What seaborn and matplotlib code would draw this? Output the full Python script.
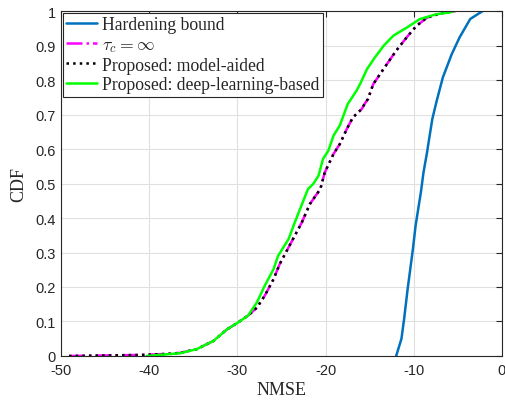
import numpy as np
import pandas as pd
import matplotlib
matplotlib.use("Agg")
import matplotlib.pyplot as plt
import seaborn as sns

# ---- data ----
cdf_hardening = [0.0, 0.05, 0.107, 0.194, 0.252, 0.31, 0.377, 0.426, 0.474, 0.532,
                 0.59, 0.639, 0.687, 0.74, 0.808, 0.875, 0.924, 0.977, 1.0]
nmse_hardening = [-12.0, -11.4, -11.1, -10.7, -10.4, -10.1, -9.8, -9.5, -9.2, -8.9,
                  -8.5, -8.2, -7.9, -7.4, -6.7, -5.7, -4.8, -3.6, -2.2]

cdf_tau_inf = [0.0, 0.003, 0.006, 0.009, 0.02, 0.044, 0.077, 0.096, 0.117, 0.14,
               0.175, 0.223, 0.267, 0.339, 0.387, 0.44, 0.484, 0.532, 0.586, 0.614,
               0.658, 0.692, 0.716, 0.73, 0.745, 0.788, 0.837, 0.885, 0.924, 0.957,
               0.981, 0.993, 0.999, 1.0]
nmse_tau_inf = [-49.1, -41.0, -38.0, -36.5, -34.6, -32.7, -31.2, -30.0, -28.8, -27.8,
                -26.9, -25.9, -25.2, -23.7, -22.7, -21.8, -20.6, -20.1, -19.1, -18.4,
                -17.6, -16.9, -15.9, -15.6, -15.2, -14.6, -13.3, -12.0, -10.8, -9.7,
                -8.5, -7.0, -5.7, -5.3]

cdf_model = list(cdf_tau_inf)
nmse_model = [-49.1, -41.0, -38.0, -36.5, -34.6, -32.7, -31.2, -30.0, -28.8, -27.8,
              -26.9, -25.9, -25.2, -23.7, -22.7, -21.8, -20.6, -20.1, -19.1, -18.4,
              -17.6, -16.9, -15.9, -15.6, -15.2, -14.6, -13.3, -12.0, -10.8, -9.7,
              -8.5, -7.0, -5.7, -5.3]

cdf_deep = [0.0, 0.008, 0.02, 0.044, 0.077, 0.096, 0.117, 0.155, 0.204, 0.252,
            0.29, 0.339, 0.387, 0.426, 0.484, 0.499, 0.523, 0.571, 0.595, 0.639,
            0.668, 0.730, 0.769, 0.788, 0.832, 0.866, 0.90, 0.929, 0.952, 0.977,
            0.991, 0.996, 1.0]
nmse_deep = [-40.3, -36.5, -34.6, -32.7, -31.2, -30.0, -28.8, -27.8, -26.9, -25.9,
             -25.4, -24.2, -23.5, -22.9, -22.0, -21.4, -20.8, -20.3, -19.7, -19.1,
             -18.4, -17.5, -16.5, -16.1, -15.3, -14.4, -13.4, -12.3, -10.8, -9.3,
             -7.4, -5.9, -5.5]

labels = ["Hardening bound", r"$\tau_c = \infty$",
          "Proposed: model-aided", "Proposed: deep-learning-based"]
x_ticks = [-50, -40, -30, -20, -10, 0]
y_ticks = [0, 0.1, 0.2, 0.3, 0.4, 0.5, 0.6, 0.7, 0.8, 0.9, 1.0]
y_tick_labels = ["0", "0.1", "0.2", "0.3", "0.4", "0.5", "0.6", "0.7", "0.8", "0.9", "1"]

sns.set_style("whitegrid")
plt.rcParams["font.family"] = ["Liberation Sans", "DejaVu Sans"]
plt.rcParams["mathtext.fontset"] = "cm"

fig = plt.figure(figsize=(5.05, 4.02), dpi=100)
ax = fig.add_axes([0.121, 0.112, 0.873, 0.858])

series = [
    (nmse_hardening, cdf_hardening, "#0072BD", "-", labels[0]),
    (nmse_tau_inf, cdf_tau_inf, "#FF00FF", "-.", labels[1]),
    (nmse_model, cdf_model, "black", ":", labels[2]),
    (nmse_deep, cdf_deep, "#00FF00", "-", labels[3]),
]
for vals, cdf, col, ls, lab in series:
    df = pd.DataFrame({"NMSE": vals, "CDF": cdf})
    sns.lineplot(data=df, x="NMSE", y="CDF", sort=False, estimator=None,
                 color=col, linestyle=ls, linewidth=1.8, label=lab, ax=ax)

ax.set_xlim(-50, 0)
ax.set_ylim(0, 1)
ax.set_xticks(x_ticks)
ax.set_xticklabels([str(t) for t in x_ticks], fontsize=10.5, color="#262626")
ax.set_yticks(y_ticks)
ax.set_yticklabels(y_tick_labels, fontsize=10.5, color="#262626")
ax.tick_params(direction="in", length=4, top=True, right=True, color="#262626",
               width=0.8)
ax.tick_params(axis="x", pad=5)
ax.tick_params(axis="y", pad=4)
ax.grid(True, color="#e0e0e0", linewidth=0.8)
for s in ax.spines.values():
    s.set_visible(True)
    s.set_color("#262626")
    s.set_linewidth(0.8)

ax.set_xlabel("NMSE", fontsize=13, family=["Liberation Serif"], color="#262626", labelpad=3)
ax.set_ylabel("CDF", fontsize=13, family=["Liberation Serif"], color="#262626", labelpad=6)

leg = ax.legend(loc="upper left", prop={"family": "Liberation Serif", "size": 12.7},
                frameon=True, fancybox=False, edgecolor="#262626", framealpha=1,
                borderpad=0.2, labelspacing=0.15, handlelength=1.75, handletextpad=0.25,
                borderaxespad=0.1)
leg.get_frame().set_linewidth(0.8)

fig.savefig("out.png", dpi=100)
